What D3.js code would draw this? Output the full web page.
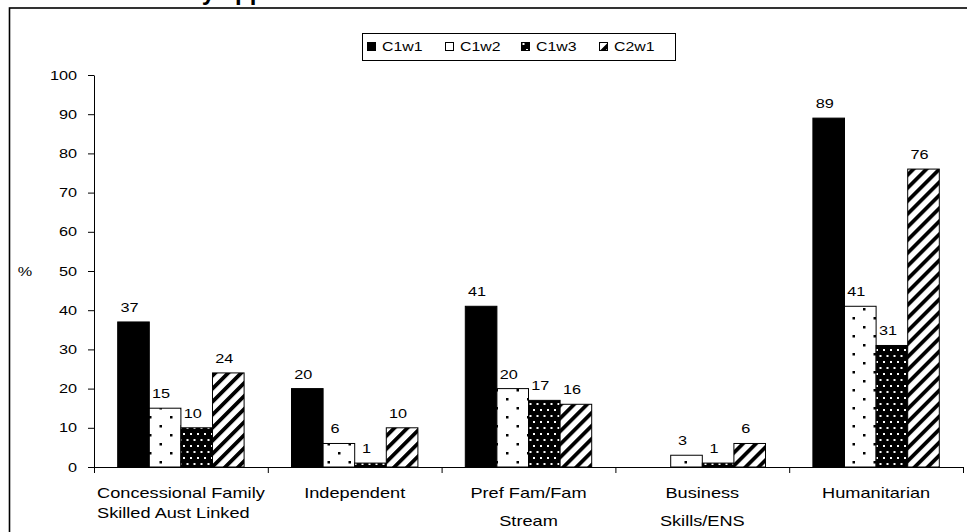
<!DOCTYPE html>
<html>
<head>
<meta charset="utf-8">
<script src="https://cdn.jsdelivr.net/npm/d3@7"></script>
<style>
  html, body { margin: 0; padding: 0; background: #fff; }
  svg { display: block; }
  text { font-family: Arial, "Liberation Sans", sans-serif; fill: #000; }
</style>
</head>
<body>
<div id="chart"></div>
<script>
// Visa categories (line breaks mark the two-line axis labels)
const categories = [
  "Concessional Family\nSkilled Aust Linked",
  "Independent",
  "Pref Fam/Fam\nStream",
  "Business\nSkills/ENS",
  "Humanitarian"
];

// Cohort / wave series, percent
const seriesNames = ["C1w1", "C1w2", "C1w3", "C2w1"];
const C1w1 = [37, 20, 41, null, 89];
const C1w2 = [15, 6, 20, 3, 41];
const C1w3 = [10, 1, 17, 1, 31];
const C2w1 = [24, 10, 16, 6, 76];
const seriesValues = [C1w1, C1w2, C1w3, C2w1];

// Value axis ticks
const yTicks = [0, 10, 20, 30, 40, 50, 60, 70, 80, 90, 100];

const titleText = "Health status by applicant visa";

const W = 967, H = 532;
const plot = { left: 94, right: 963, top: 75, bottom: 467 };
const FONT = "Arial, 'Liberation Sans', sans-serif";

const svg = d3.select("#chart").append("svg")
  .attr("width", W).attr("height", H);

// Text in this chart is set slightly wide: place it at (x, y) and stretch horizontally
function wideText(parent, x, y, str, size, stretch, anchor) {
  return parent.append("text")
    .attr("transform", `translate(${x},${y}) scale(${stretch},1)`)
    .attr("text-anchor", anchor || "start")
    .attr("font-size", size)
    .text(str);
}

// Fill patterns for each series
const defs = svg.append("defs");

const pDots = defs.append("pattern").attr("id", "fill-C1w2")
  .attr("patternUnits", "userSpaceOnUse").attr("width", 21).attr("height", 18);
pDots.append("rect").attr("width", 21).attr("height", 18).attr("fill", "#fff");
pDots.append("rect").attr("x", 2).attr("y", 2).attr("width", 2.5).attr("height", 2.5).attr("fill", "#000");
pDots.append("rect").attr("x", 12.5).attr("y", 11).attr("width", 2.5).attr("height", 2.5).attr("fill", "#000");

const pDense = defs.append("pattern").attr("id", "fill-C1w3")
  .attr("patternUnits", "userSpaceOnUse").attr("width", 7).attr("height", 12);
pDense.append("rect").attr("width", 7).attr("height", 12).attr("fill", "#000");
pDense.append("rect").attr("x", 1).attr("y", 1).attr("width", 2).attr("height", 2).attr("fill", "#fff");
pDense.append("rect").attr("x", 4.5).attr("y", 7).attr("width", 2).attr("height", 2).attr("fill", "#fff");

const stripeP = 9.2;
const pStripe = defs.append("pattern").attr("id", "fill-C2w1")
  .attr("patternUnits", "userSpaceOnUse").attr("width", stripeP).attr("height", stripeP)
  .attr("patternTransform", "rotate(45)");
pStripe.append("rect").attr("width", stripeP).attr("height", stripeP).attr("fill", "#fff");
pStripe.append("rect").attr("x", 0).attr("width", 3.8).attr("height", stripeP).attr("fill", "#000");

const fills = ["#000", "url(#fill-C1w2)", "url(#fill-C1w3)", "url(#fill-C2w1)"];

// Outer frame (extends past the right and bottom edges)
svg.append("rect")
  .attr("x", 9.5).attr("y", 8).attr("width", 980).attr("height", 560)
  .attr("fill", "none").attr("stroke", "#000").attr("stroke-width", 1.6);

// Title, mostly above the visible area
const title = svg.append("text")
  .attr("y", 0)
  .attr("font-size", 24).attr("font-weight", "bold")
  .text(titleText);
{
  const probe = svg.append("text").attr("font-size", 24).attr("font-weight", "bold")
    .attr("xml:space", "preserve").text("Health status ");
  const w = probe.node().getComputedTextLength();
  probe.remove();
  title.attr("x", 187 - w);
}

// Scales
const x0 = d3.scaleBand().domain(d3.range(categories.length))
  .range([plot.left, plot.right]).paddingInner(0).paddingOuter(0);
const step = x0.bandwidth();
const barW = step / (seriesNames.length + 1.5);
const x1 = d3.scaleBand().domain(d3.range(seriesNames.length))
  .range([0, barW * seriesNames.length]).padding(0);
const groupOffset = (step - barW * seriesNames.length) / 2;
const y = d3.scaleLinear().domain([0, 100]).range([plot.bottom, plot.top]);

// Bars
const rows = [];
categories.forEach((c, ci) => {
  seriesValues.forEach((vals, si) => {
    if (vals[ci] != null) rows.push({ ci, si, v: vals[ci] });
  });
});

const g = svg.append("g");
g.selectAll("rect.bar").data(rows).join("rect")
  .attr("class", "bar")
  .attr("x", d => x0(d.ci) + groupOffset + x1(d.si))
  .attr("y", d => y(d.v))
  .attr("width", x1.bandwidth())
  .attr("height", d => y(0) - y(d.v))
  .attr("fill", d => fills[d.si])
  .attr("stroke", "#000").attr("stroke-width", 1);

// Value labels
rows.forEach(d => {
  wideText(g, x0(d.ci) + groupOffset + x1(d.si) + x1.bandwidth() / 2 - 4, y(d.v) - 10,
    d.v, 13, 1.25, "middle");
});

// Y axis
const yAxis = d3.axisLeft(y).tickValues(yTicks).tickSize(6).tickSizeOuter(0).tickPadding(10);
const ya = svg.append("g").attr("transform", `translate(${plot.left},0)`).call(yAxis);
ya.select(".domain").attr("stroke", "#000");
ya.selectAll(".tick line").attr("stroke", "#000");
ya.selectAll(".tick text")
  .attr("x", null)
  .attr("transform", "translate(-17,0) scale(1.25,1)")
  .attr("font-size", 13).attr("font-family", FONT).attr("fill", "#000");

wideText(svg, 25, y(50) + 4.5, "%", 13, 1.25, "middle");

// X axis: baseline with ticks at category boundaries
svg.append("line")
  .attr("x1", plot.left).attr("x2", plot.right)
  .attr("y1", y(0) + 0.5).attr("y2", y(0) + 0.5)
  .attr("stroke", "#000");
const bounds = d3.range(categories.length + 1).map(i => plot.left + i * step);
svg.selectAll("line.xtick").data(bounds).join("line")
  .attr("class", "xtick")
  .attr("x1", d => d + 0.5).attr("x2", d => d + 0.5)
  .attr("y1", y(0)).attr("y2", y(0) + 6)
  .attr("stroke", "#000");

// Category labels: lines centred under each group; a label whose first line
// nearly fills the band is set flush left under that first line instead
const lineGap = [20, 20, 28, 28, 20];
const catStretch = 1.3;
const catG = svg.append("g");
categories.forEach((c, ci) => {
  const lines = c.split("\n");
  const cx = x0(ci) + step / 2;
  const first = wideText(catG, cx, 498, lines[0], 14, catStretch, "middle");
  const w0 = first.node().getComputedTextLength() * catStretch;
  if (lines.length > 1 && w0 > 0.9 * step) {
    const left = cx - w0 / 2;
    first.attr("text-anchor", "start").attr("transform", `translate(${left},498) scale(${catStretch},1)`);
    lines.slice(1).forEach((line, li) => {
      wideText(catG, left, 498 + (li + 1) * lineGap[ci], line, 14, catStretch, "start");
    });
  } else {
    lines.slice(1).forEach((line, li) => {
      wideText(catG, cx, 498 + (li + 1) * lineGap[ci], line, 14, catStretch, "middle");
    });
  }
});

// Legend
const legend = svg.append("g");
legend.append("rect")
  .attr("x", 362.5).attr("y", 33.5).attr("width", 313).attr("height", 27)
  .attr("fill", "#fff").attr("stroke", "#000");
const legendX = [367, 445, 521, 599];
seriesNames.forEach((name, i) => {
  legend.append("rect")
    .attr("x", legendX[i] + 0.5).attr("y", 42.5).attr("width", 8).attr("height", 8)
    .attr("fill", fills[i]).attr("stroke", "#000");
  wideText(legend, legendX[i] + 15, 51, name, 13, 1.22, "start");
});
</script>
</body>
</html>
